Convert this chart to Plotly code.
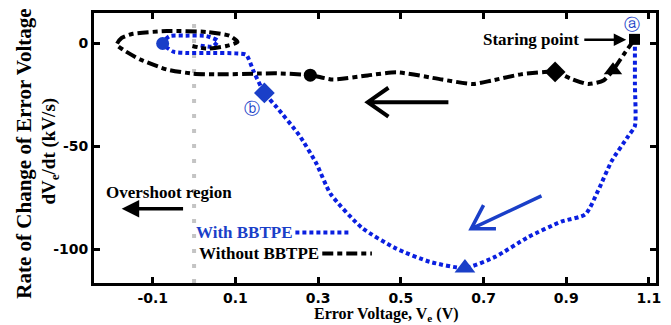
import plotly.graph_objects as go

# With BBTPE trajectory (blue, dotted)
blue_x = [1.066, 1.066, 1.066, 1.05, 1.01, 0.977, 0.946, 0.888, 0.808, 0.729, 0.655,
          0.57, 0.488, 0.406, 0.33, 0.295, 0.254, 0.20, 0.17, 0.145, 0.126, 0.10, 0.04,
          -0.02, -0.05, -0.076, -0.06, -0.02, 0.03, 0.057, 0.045, 0.015]
blue_y = [2, -20, -40, -45, -57, -71.5, -83, -86.5, -94, -103.5, -109,
          -106, -99.5, -89.5, -73, -58, -44.5, -31, -24, -14, -5.5, -4.8, -4.6,
          -4.6, -4, 0, 3.5, 3.8, 3.6, 1.3, -1.5, -1]

# Without BBTPE trajectory (black, dash-dot)
black_x = [1.065, 1.04, 1.013, 0.99, 0.953, 0.91, 0.873, 0.79, 0.72, 0.674, 0.6, 0.49,
           0.42, 0.336, 0.281, 0.2, 0.158, 0.054, -0.004, -0.066, -0.13, -0.172, -0.187,
           -0.175, -0.148, -0.066, 0.03, 0.086, 0.105, 0.078, 0.03, -0.004]
black_y = [2, -5, -13, -18, -19.7, -17, -13.8, -15, -18, -19.7, -17.5, -14,
           -15.5, -17.5, -15.4, -14.5, -14.6, -15, -14.6, -12.6, -7.8, -3, -0.6,
           2.7, 4.7, 6, 5.6, 3.7, 0.8, -1.2, -2.5, -1.2]

# Markers
blue_mk_x = [-0.076, 0.17, 0.655]
blue_mk_y = [0, -24, -109]
blue_mk_sym = ["circle", "diamond", "triangle-up"]
blue_mk_size = [13, 16, 18]

black_mk_x = [1.065, 1.013, 0.873, 0.281]
black_mk_y = [2, -13, -13.8, -15.4]
black_mk_sym = ["square", "triangle-up", "diamond", "circle"]
black_mk_size = [11, 16, 16, 13]

x_ticks = [-0.1, 0.1, 0.3, 0.5, 0.7, 0.9, 1.1]
y_ticks = [0, -50, -100]

BLUE = "#0a1fe0"
BLUE2 = "#1a3fc8"
serif = "Liberation Serif"
BLK_DASH = "11px,4px,5px,4px"
BLUE_DOT = "4px,3px"

fig = go.Figure()
fig.add_trace(go.Scatter(x=blue_x, y=blue_y, mode="lines",
                         line=dict(color=BLUE, width=4, dash=BLUE_DOT, shape="spline", smoothing=0.6),
                         showlegend=False))
fig.add_trace(go.Scatter(x=black_x, y=black_y, mode="lines",
                         line=dict(color="black", width=4, dash=BLK_DASH, shape="spline", smoothing=0.6),
                         showlegend=False))
fig.add_trace(go.Scatter(x=blue_mk_x, y=blue_mk_y, mode="markers",
                         marker=dict(color=BLUE2, symbol=blue_mk_sym, size=blue_mk_size,
                                     opacity=1, line=dict(width=0)),
                         showlegend=False))
fig.add_trace(go.Scatter(x=black_mk_x, y=black_mk_y, mode="markers",
                         marker=dict(color="black", symbol=black_mk_sym, size=black_mk_size,
                                     opacity=1, line=dict(width=0)),
                         showlegend=False))

shapes = [
    dict(type="line", xref="x", yref="paper", x0=0, x1=0, y0=0, y1=1,
         line=dict(color="#c4c4c4", width=4, dash="4px,11px"), layer="below"),
    # legend line samples
    dict(type="line", xref="x", yref="y", x0=0.245, x1=0.38, y0=-91.8, y1=-91.8,
         line=dict(color=BLUE, width=4, dash=BLUE_DOT)),
    dict(type="line", xref="x", yref="y", x0=0.31, x1=0.43, y0=-102, y1=-102,
         line=dict(color="black", width=4, dash=BLK_DASH)),
    # big open arrows (direction of trajectories)
    dict(type="path", xref="x", yref="y",
         path="M 0.615,-28.5 L 0.42,-28.5 M 0.47,-21.5 L 0.42,-28.5 L 0.47,-35.5",
         line=dict(color="black", width=4)),
    dict(type="path", xref="x", yref="y",
         path="M 0.84,-74 L 0.67,-90 M 0.70,-78.5 L 0.67,-90 L 0.73,-90",
         line=dict(color=BLUE2, width=3.5)),
]


def ann(x, y, text, size, color="black", xanchor="center", angle=0, ref="data", family=serif):
    r = "x" if ref == "data" else "paper"
    return dict(x=x, y=y, xref=r, yref=("y" if ref == "data" else "paper"), text=text,
                showarrow=False, xanchor=xanchor, yanchor="middle", textangle=angle,
                font=dict(family=family, size=size, color=color))


annotations = [
    ann(0.936, 1.8, "<b>Staring point</b>", 17, xanchor="right"),
    dict(x=1.045, y=1.8, ax=0.94, ay=1.8, xref="x", yref="y", axref="x", ayref="y",
         text="", showarrow=True, arrowhead=2, arrowsize=1, arrowwidth=2.5, arrowcolor="black"),
    ann(-0.06, -72.5, "<b>Overshoot region</b>", 17),
    dict(x=-0.175, y=-80.3, ax=-0.023, ay=-80.3, xref="x", yref="y", axref="x", ayref="y",
         text="", showarrow=True, arrowhead=2, arrowsize=1, arrowwidth=3.5, arrowcolor="black"),
    ann(0.245, -91.8, "<b>With BBTPE</b>", 17, color=BLUE2, xanchor="right"),
    ann(0.307, -102, "<b>Without BBTPE</b>", 17, xanchor="right"),
    ann(1.06, 9, "ⓐ", 16, color=BLUE2, family="DejaVu Sans"),
    ann(0.14, -31.5, "ⓑ", 16, color=BLUE2, family="DejaVu Sans"),
    ann((24 - 94) / 564, (283 - 152) / 273, "<b>Rate of Change of Error Voltage</b>", 21,
        angle=-90, ref="paper"),
    ann((50 - 94) / 564, (283 - 150) / 273, "<b>dV<sub>e</sub>/dt (kV/s)</b>", 19,
        angle=-90, ref="paper"),
    ann((388 - 94) / 564, (283 - 315) / 273, "<b>Error Voltage, V<sub>e</sub> (V)</b>", 16,
        ref="paper"),
]

axis_common = dict(showline=True, linecolor="black", linewidth=3, mirror="ticks",
                   ticks="inside", ticklen=6, tickwidth=3, tickcolor="black",
                   showgrid=False, zeroline=False, ticklabelstandoff=0,
                   tickfont=dict(family="DejaVu Sans", size=14, color="black", weight="bold"))

fig.update_layout(
    width=671, height=325,
    margin=dict(l=94, r=13, t=10, b=42),
    paper_bgcolor="white", plot_bgcolor="white",
    xaxis=dict(range=[-0.242, 1.117], tickvals=x_ticks, ticktext=[f"{v:g}" for v in x_ticks],
               **axis_common),
    yaxis=dict(range=[-116.3, 14.8], tickvals=y_ticks, ticktext=[str(v) for v in y_ticks],
               **axis_common),
    shapes=shapes, annotations=annotations,
)

fig.write_html("out.html")
